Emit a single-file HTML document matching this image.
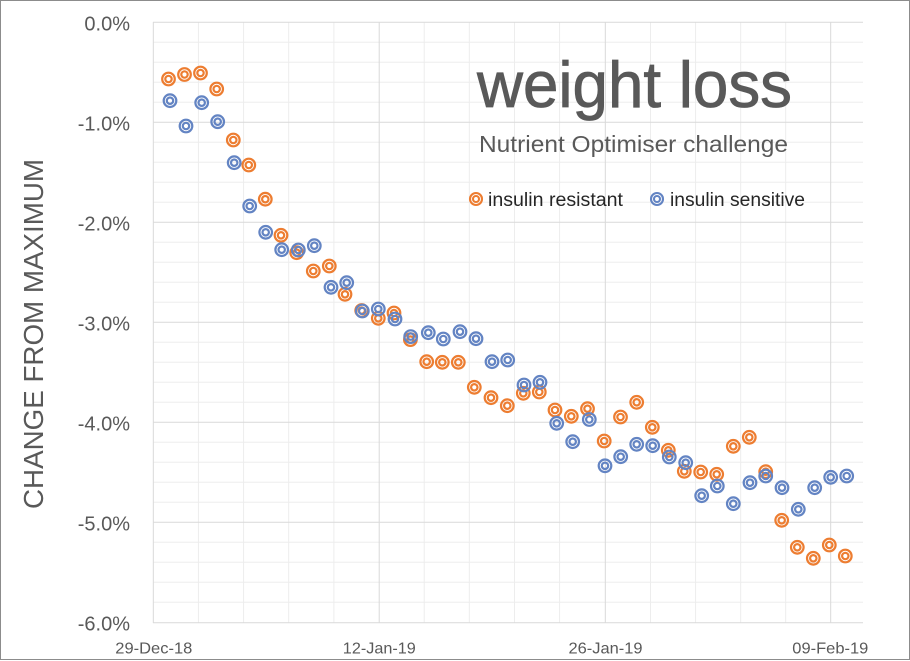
<!DOCTYPE html>
<html><head><meta charset="utf-8"><style>
html,body{margin:0;padding:0;background:#fff;}
svg{display:block;}
text{font-family:"Liberation Sans",Arial,sans-serif;}
</style></head><body>
<svg width="910" height="661" viewBox="0 0 910 661" xmlns="http://www.w3.org/2000/svg">
<defs>
<marker id="mo" markerWidth="18" markerHeight="18" refX="9" refY="9" markerUnits="userSpaceOnUse" overflow="visible"><circle cx="9" cy="9" r="6.3" fill="none" stroke="#ed7d31" stroke-width="2.2"/><circle cx="9" cy="9" r="3.2" fill="none" stroke="#ed7d31" stroke-width="2.2"/></marker>
<marker id="mb" markerWidth="18" markerHeight="18" refX="9" refY="9" markerUnits="userSpaceOnUse" overflow="visible"><circle cx="9" cy="9" r="6.3" fill="none" stroke="#6384c3" stroke-width="2.2"/><circle cx="9" cy="9" r="3.2" fill="none" stroke="#6384c3" stroke-width="2.2"/></marker>
</defs>
<rect x="0" y="0" width="910" height="661" fill="#fff"/>
<rect x="0.5" y="0.5" width="909" height="659" fill="none" stroke="#8c8c8c" stroke-width="1"/>
<path fill="none" stroke="#ededed" stroke-width="1" d="M153 42.3H863M153 62.3H863M153 82.3H863M153 102.3H863M153 142.3H863M153 162.3H863M153 182.3H863M153 202.3H863M153 242.3H863M153 262.3H863M153 282.3H863M153 302.3H863M153 342.3H863M153 362.3H863M153 382.3H863M153 402.3H863M153 442.3H863M153 462.3H863M153 482.3H863M153 502.3H863M153 542.3H863M153 562.3H863M153 582.3H863M153 602.3H863M198.4 22V623M243.6 22V623M288.7 22V623M333.9 22V623M424.2 22V623M469.3 22V623M514.5 22V623M559.6 22V623M650.5 22V623M695.6 22V623M740.7 22V623M785.7 22V623"/>
<path fill="none" stroke="#d9d9d9" stroke-width="1" d="M153 22.3H863M153 122.3H863M153 222.3H863M153 322.3H863M153 422.3H863M153 522.3H863M153 622.7H863M153.3 22V623M379.2 22V623M605.3 22V623M830.7 22V623"/>
<g fill="#595959" font-size="20" text-anchor="end">
<text x="130" y="30.5">0.0%</text>
<text x="130" y="130.3">-1.0%</text>
<text x="130" y="230.3">-2.0%</text>
<text x="130" y="330.3">-3.0%</text>
<text x="130" y="430.3">-4.0%</text>
<text x="130" y="530.3">-5.0%</text>
<text x="130" y="630.5">-6.0%</text>
</g>
<g fill="#595959" font-size="16" text-anchor="middle">
<text x="153.8" y="653.3" textLength="77" lengthAdjust="spacingAndGlyphs">29-Dec-18</text>
<text x="379.3" y="653.3" textLength="73" lengthAdjust="spacingAndGlyphs">12-Jan-19</text>
<text x="605.5" y="653.3" textLength="74" lengthAdjust="spacingAndGlyphs">26-Jan-19</text>
<text x="830.3" y="653.3" textLength="76" lengthAdjust="spacingAndGlyphs">09-Feb-19</text>
</g>
<text transform="translate(43,334) rotate(-90)" text-anchor="middle" fill="#595959" font-size="27.5" textLength="350" lengthAdjust="spacingAndGlyphs">CHANGE FROM MAXIMUM</text>
<text x="477" y="107" fill="#595959" stroke="#595959" stroke-width="0.8" font-size="65" textLength="315" lengthAdjust="spacingAndGlyphs">weight loss</text>
<text x="479" y="152" fill="#595959" font-size="23" textLength="309" lengthAdjust="spacingAndGlyphs">Nutrient Optimiser challenge</text>
<g fill="none" stroke="#ed7d31" stroke-width="2.1"><circle cx="476" cy="199" r="6"/><circle cx="476" cy="199" r="3"/></g>
<g fill="none" stroke="#6384c3" stroke-width="2.1"><circle cx="657" cy="199" r="6"/><circle cx="657" cy="199" r="3"/></g>
<g fill="#262626" font-size="19">
<text x="488" y="206" textLength="135" lengthAdjust="spacingAndGlyphs">insulin resistant</text>
<text x="670" y="206" textLength="135" lengthAdjust="spacingAndGlyphs">insulin sensitive</text>
</g>
<polyline fill="none" stroke="none" marker-start="url(#mo)" marker-mid="url(#mo)" marker-end="url(#mo)" points="168.5,79 184.5,74.5 200.5,73 216.7,89 233.3,140 248.8,165 265.3,199.2 281,235.3 296.7,252.7 313.3,271 329.3,266 345,294.3 361.7,310.5 378.3,318.3 394,313 410.4,339.6 426.7,361.7 442.3,362.3 458.3,362.3 474.3,387.3 491,397.7 507.3,405.7 523.3,393.3 539.3,392 555,410 571.3,416.3 587.5,408.7 604.2,441 620.5,417 636.7,402.3 652.3,427.3 668.3,450.3 684.3,471.3 700.7,472 716.7,474.3 733.3,446.3 749.3,437.3 765.7,471.7 781.7,520.3 797.3,547.3 813.3,558.3 829.3,545 845.3,556"/>
<polyline fill="none" stroke="none" marker-start="url(#mb)" marker-mid="url(#mb)" marker-end="url(#mb)" points="170,100.7 186,126 201.7,102.7 217.7,121.7 234.2,162.7 249.7,206 265.7,232.3 281.7,249.7 298.3,250 314.3,245.7 331,287.3 346.7,282.7 362.3,311 378.3,309 395,319 410.7,336.6 428.3,332.7 443.3,339 460,331.7 476,338.7 492,361.7 507.7,360 524,385 540,382.3 556.7,423.3 572.7,441.7 589.3,419.5 605,465.8 620.7,456.7 636.7,444.3 652.7,445.7 669.3,457 685.7,462.7 701.7,495.7 717.3,486 733.3,503.7 750,482.7 765.7,476 782,487.7 798.3,509.3 814.7,487.7 830.7,477.3 846.7,476"/>
</svg>
</body></html>
